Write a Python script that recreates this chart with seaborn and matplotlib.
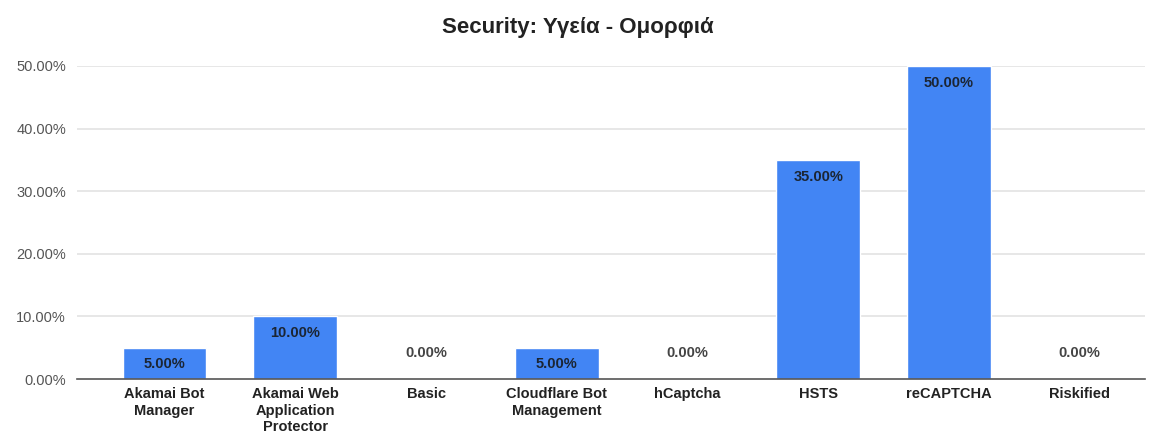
import matplotlib
matplotlib.use("Agg")
import matplotlib.pyplot as plt
import seaborn as sns
import pandas as pd

categories = ["Akamai Bot\nManager", "Akamai Web\nApplication\nProtector", "Basic",
              "Cloudflare Bot\nManagement", "hCaptcha", "HSTS", "reCAPTCHA", "Riskified"]
values = [5.0, 10.0, 0.0, 5.0, 0.0, 35.0, 50.0, 0.0]
yticks = [0, 10, 20, 30, 40, 50]
title = "Security: Υγεία - Ομορφιά"

sns.set_theme(style="white")
plt.rcParams['font.family'] = ['Liberation Sans', 'DejaVu Sans']

df = pd.DataFrame({"cat": categories, "val": values})

fig = plt.figure(figsize=(11.56, 4.36), dpi=100)
ax = fig.add_axes([0.0666, 0.1307, 0.924, 0.718])

for y in yticks[1:]:
    ax.axhline(y, color="#e3e3e3", lw=1.2, zorder=0)

sns.barplot(data=df, x="cat", y="val", color="#4285F4", saturation=1, width=0.64, ax=ax, zorder=2)

for i, v in enumerate(values):
    if v > 0:
        ax.annotate(f"{v:.2f}%", (i, v), xytext=(0, -7), textcoords="offset points",
                    ha="center", va="top", fontsize=10.5, fontweight="bold", color="#1b2533", zorder=3)
    else:
        ax.annotate(f"{v:.2f}%", (i, v), xytext=(0, 14), textcoords="offset points",
                    ha="center", va="bottom", fontsize=10.5, fontweight="bold", color="#444444", zorder=3)

ax.set_xlim(-0.67, 7.5)
ax.set_ylim(0, 50)
ax.set_yticks(yticks)
ax.set_yticklabels([f"{t:.2f}%" for t in yticks], fontsize=10.5, color="#555555")
ax.tick_params(axis="y", length=0, pad=8)
ax.tick_params(axis="x", length=0, pad=6)
for lbl in ax.get_xticklabels():
    lbl.set_fontsize(10.5)
    lbl.set_fontweight("bold")
    lbl.set_color("#222222")
    lbl.set_linespacing(1.2)
ax.set_xlabel("")
ax.set_ylabel("")
for s in ["top", "right", "left"]:
    ax.spines[s].set_visible(False)
ax.spines["bottom"].set_color("#555555")
ax.spines["bottom"].set_linewidth(1.2)
ax.spines["bottom"].set_zorder(4)

fig.suptitle(title, fontsize=16, fontweight="bold", color="#222222", y=0.96)

fig.savefig("out.png", dpi=100, facecolor="white")
